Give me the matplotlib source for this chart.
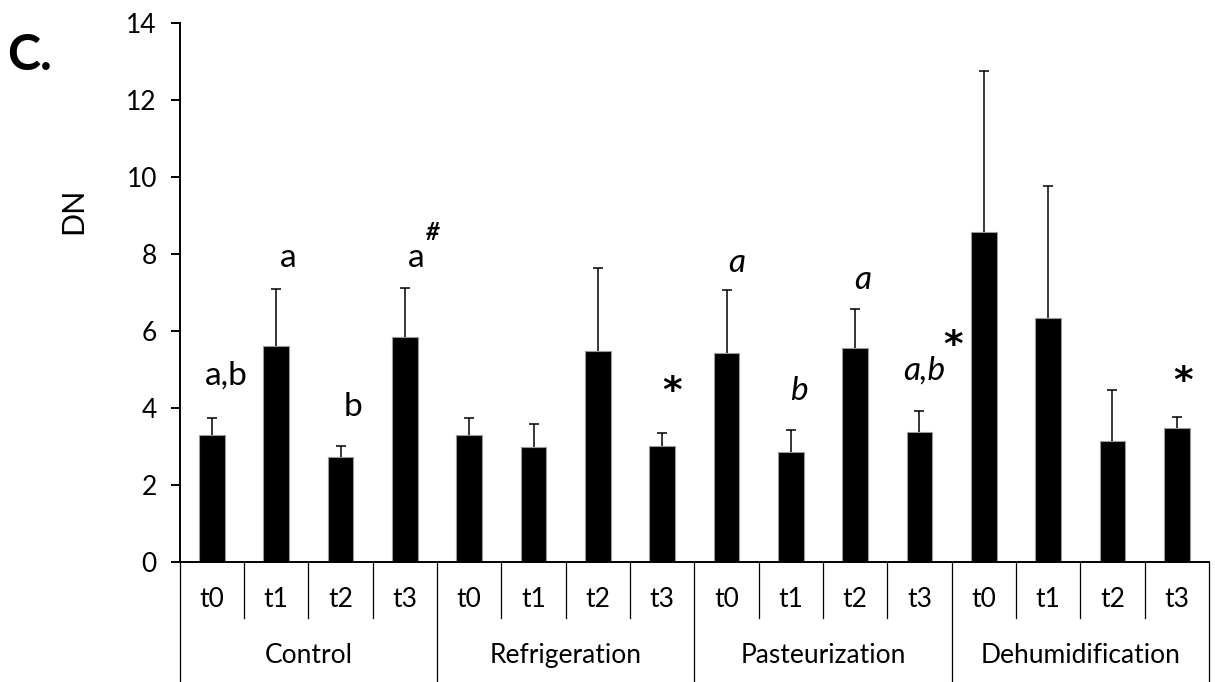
import matplotlib.pyplot as plt

plt.rcParams['font.family'] = ['Lato', 'DejaVu Sans']

groups = ["Control", "Refrigeration", "Pasteurization", "Dehumidification"]
times = ["t0", "t1", "t2", "t3"]

means = [3.29, 5.62, 2.73, 5.85,
         3.29, 2.99, 5.49, 3.02,
         5.42, 2.86, 5.56, 3.38,
         8.58, 6.33, 3.14, 3.48]
sd = [0.45, 1.47, 0.29, 1.28,
      0.45, 0.60, 2.15, 0.34,
      1.64, 0.58, 1.01, 0.53,
      4.19, 3.44, 1.34, 0.29]

# letters above bars: (bar index, text, y, italic)
letters = [(0, "a,b", 4.85, False), (1, "a", 7.89, False), (2, "b", 4.03, False),
           (3, "a", 7.89, False), (8, "a", 7.77, True), (9, "b", 4.45, True),
           (10, "a", 7.32, True), (11, "a,b", 4.98, True)]
letter_dx = [0.23, 0.19, 0.2, 0.17, 0.15, 0.13, 0.12, 0.07]
stars = [(7, 4.41), (11, 5.6), (15, 4.68)]
star_dx = [0.16, 0.52, 0.1]
hashes = [(3, 8.55)]

fig = plt.figure(figsize=(12.15, 6.82), dpi=100)
ax = fig.add_axes([0.148, 0.176, 0.847, 0.790])

x = range(len(means))
ax.bar(x, means, width=0.4, color="black", edgecolor="#9a9a9a", linewidth=0.8, zorder=2)
eb = ax.errorbar(x, means, yerr=[[0] * len(sd), sd], fmt="none", ecolor="black",
                 elinewidth=1.1, capsize=3.3, capthick=1.1, zorder=3)
eb[1][0].set_visible(False)  # no cap at the bar top

ax.set_xlim(-0.5, len(means) - 0.5)
ax.set_ylim(0, 14)
ax.set_yticks(range(0, 15, 2))
ax.tick_params(axis="y", labelsize=19, length=6.5, width=1.4, pad=10)
ax.set_xticks([])
for s in ["top", "right"]:
    ax.spines[s].set_visible(False)
ax.spines["left"].set_linewidth(1.4)
ax.spines["bottom"].set_linewidth(1.4)
ax.set_ylabel("DN", fontsize=22)
ax.yaxis.set_label_coords(-0.09, 0.651)

trans = ax.get_xaxis_transform()
n = len(times)
for i in range(len(means)):
    ax.text(i, -0.069, times[i % n], transform=trans, ha="center", va="center", fontsize=19)
for i in range(len(means) + 1):
    bottom = -0.225 if i % n == 0 else -0.104
    ax.plot([i - 0.5, i - 0.5], [0, bottom], transform=trans, color="black",
            lw=0.9, clip_on=False)
for g, name in enumerate(groups):
    ax.text(g * n + (n - 1) / 2, -0.173, name, transform=trans, ha="center",
            va="center", fontsize=19)

for (i, txt, y, it), dx in zip(letters, letter_dx):
    ax.text(i + dx, y, txt, ha="center", va="center", fontsize=24,
            style="italic" if it else "normal")
for (i, y), dx in zip(stars, star_dx):
    ax.text(i + dx, y, "*", ha="center", va="center",
            fontsize=27, fontweight="bold", family="DejaVu Sans")
for i, y in hashes:
    ax.text(i + 0.43, y, "#", ha="center", va="center", fontsize=17,
            fontweight="bold", style="italic")

fig.text(0.006, 0.918, "C.", fontsize=36, fontweight="bold", va="center", ha="left")

fig.savefig("out.png", dpi=100)
